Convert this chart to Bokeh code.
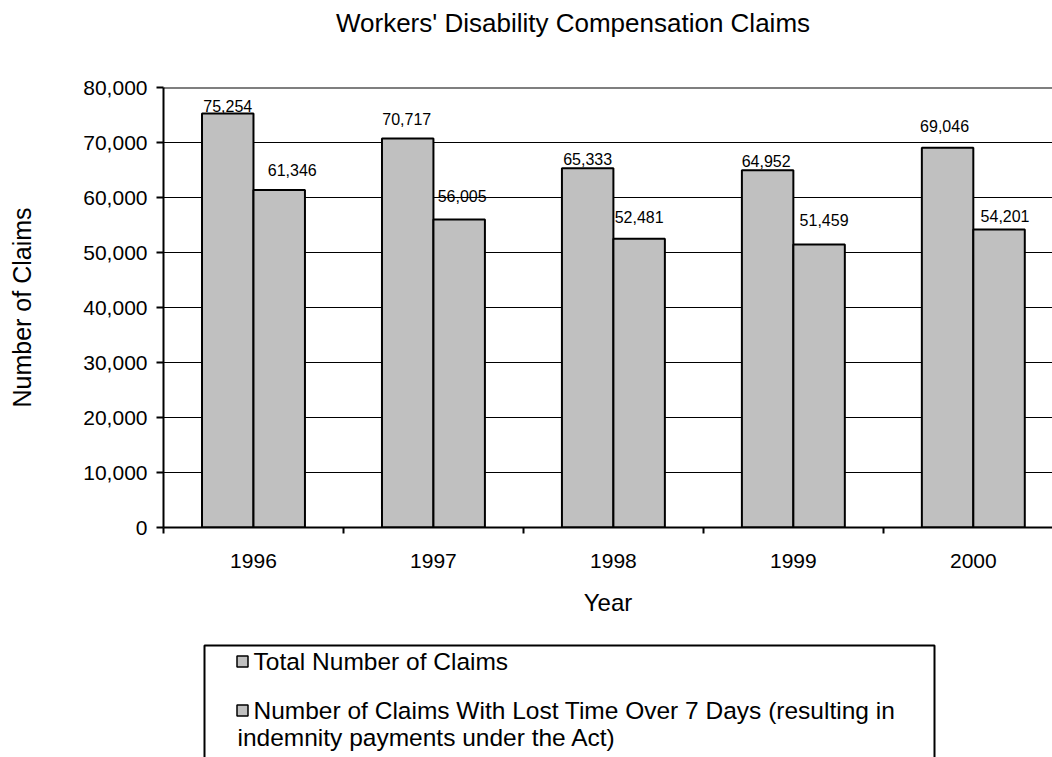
from bokeh.plotting import figure
from bokeh.models import Range1d, FixedTicker, NumeralTickFormatter, ColumnDataSource, Span
from bokeh.layouts import column
from bokeh.embed import file_html
from bokeh.resources import INLINE
from bokeh.core.properties import value

# ---------------- data ----------------
years = ["1996", "1997", "1998", "1999", "2000"]
total_claims = [75254, 70717, 65333, 64952, 69046]
lost_time_claims = [61346, 56005, 52481, 51459, 54201]
y_ticks = [0, 10000, 20000, 30000, 40000, 50000, 60000, 70000, 80000]
chart_title = "Workers' Disability Compensation Claims"
y_title = "Number of Claims"
x_title = "Year"
series_names = ["Total Number of Claims",
                "Number of Claims With Lost Time Over 7 Days (resulting in indemnity payments under the Act)"]

# ---------------- style / layout ----------------
FONT = "Liberation Sans"
BAR_FILL = "#c0c0c0"
BAR_W = 0.286
# label nudges (pixels) as placed in the original chart
total_dx = [0, -1, 0, -1.5, -3]
total_gap = [8, 20, 9, 9, 22]
lost_dx = [13, 3, 0, 5, 6]
lost_gap = [20, 23, 22, 24, 13]

pos = [i + 1 for i in range(len(years))]          # category centres
bounds = [i + 0.5 for i in range(len(years) + 1)]  # category boundaries


def blank_panel(height):
    f = figure(width=1052, height=height, x_range=Range1d(163, 1052), y_range=Range1d(height, 0),
               output_backend="svg", toolbar_location=None,
               min_border_left=163, min_border_right=0, min_border_top=0, min_border_bottom=0)
    f.xaxis.visible = False
    f.yaxis.visible = False
    f.xgrid.visible = False
    f.ygrid.visible = False
    f.outline_line_color = None
    f.background_fill_color = "white"
    f.border_fill_color = "white"
    return f


# ---------------- title panel ----------------
tp = blank_panel(72)
tp.text(x=[572.5], y=[22], text=[chart_title], text_align="center", text_baseline="middle",
        text_font=value(FONT), text_font_size="26px", text_color="black")

# ---------------- chart ----------------
src_total = ColumnDataSource(dict(
    x=[c - BAR_W / 2 for c in pos], top=total_claims,
    label=[f"{v:,}" for v in total_claims],
    dx=total_dx, dy=[-g for g in total_gap]))
src_lost = ColumnDataSource(dict(
    x=[c + BAR_W / 2 for c in pos], top=lost_time_claims,
    label=[f"{v:,}" for v in lost_time_claims],
    dx=lost_dx, dy=[-g for g in lost_gap]))

p = figure(width=1052, height=568, title=None,
           x_range=Range1d(0.5, 5.44), y_range=Range1d(0, 80000),
           output_backend="svg", toolbar_location=None,
           min_border_left=163, min_border_right=0,
           min_border_top=15, min_border_bottom=113)
p.background_fill_color = "white"
p.border_fill_color = "white"
p.outline_line_color = None

for src in (src_total, src_lost):
    p.vbar(x="x", top="top", bottom=0, width=BAR_W, source=src,
           fill_color=BAR_FILL, line_color="black", line_width=2)
    p.text(x="x", y="top", text="label", source=src,
           x_offset="dx", y_offset="dy",
           text_align="center", text_baseline="alphabetic",
           text_font=value(FONT), text_font_size="16px", text_color="black")

p.add_layout(Span(location=80000, dimension="width",
                  line_color="black", line_width=2))

# y axis
p.yaxis.ticker = FixedTicker(ticks=y_ticks)
p.yaxis.formatter = NumeralTickFormatter(format="0,0")
p.yaxis.axis_line_width = 2
p.yaxis.axis_line_color = "black"
p.yaxis.major_tick_out = 7
p.yaxis.major_tick_in = 0
p.yaxis.major_tick_line_width = 2
p.yaxis.major_tick_line_color = "black"
p.yaxis.minor_tick_line_color = None
p.yaxis.major_label_standoff = 9
p.yaxis.major_label_text_font = FONT
p.yaxis.major_label_text_font_size = "21px"
p.yaxis.major_label_text_color = "black"
p.yaxis.axis_label = y_title
p.yaxis.axis_label_text_font = FONT
p.yaxis.axis_label_text_font_size = "25px"
p.yaxis.axis_label_text_font_style = "normal"
p.yaxis.axis_label_text_color = "black"
p.yaxis.axis_label_standoff = 44

# x axis
p.xaxis.ticker = FixedTicker(ticks=pos, minor_ticks=bounds)
p.xaxis.major_label_overrides = {c: y for c, y in zip(pos, years)}
p.xaxis.axis_line_width = 2
p.xaxis.axis_line_color = "black"
p.xaxis.major_tick_out = 0
p.xaxis.major_tick_in = 0
p.xaxis.major_tick_line_color = None
p.xaxis.minor_tick_out = 6
p.xaxis.minor_tick_in = 0
p.xaxis.minor_tick_line_width = 2
p.xaxis.minor_tick_line_color = "black"
p.xaxis.major_label_standoff = 20
p.xaxis.major_label_text_font = FONT
p.xaxis.major_label_text_font_size = "21px"
p.xaxis.major_label_text_color = "black"
p.xaxis.axis_label = x_title
p.xaxis.axis_label_text_font = FONT
p.xaxis.axis_label_text_font_size = "24px"
p.xaxis.axis_label_text_font_style = "normal"
p.xaxis.axis_label_text_color = "black"
p.xaxis.axis_label_standoff = 18

p.xgrid.visible = False
p.ygrid.ticker = FixedTicker(ticks=y_ticks)
p.ygrid.grid_line_color = "black"
p.ygrid.grid_line_width = 1

# ---------------- legend panel ----------------
lg = blank_panel(117)
lg.quad(left=[204], right=[934], top=[5], bottom=[200],
        fill_color="white", line_color="black", line_width=2)
lg.rect(x=[242, 242], y=[21, 70], width=11, height=11,
        fill_color=BAR_FILL, line_color="black", line_width=1.5)
first, second = series_names[1].split(" indemnity")
legend_lines = [series_names[0], first, "indemnity" + second]
lg.text(x=[253, 253, 237], y=[21, 70, 97], text=legend_lines,
        text_baseline="middle", text_align="left",
        text_font=value(FONT), text_font_size="24.5px", text_color="black")

layout = column(tp, p, lg, spacing=0)
open("out.html", "w").write(file_html(layout, INLINE))
